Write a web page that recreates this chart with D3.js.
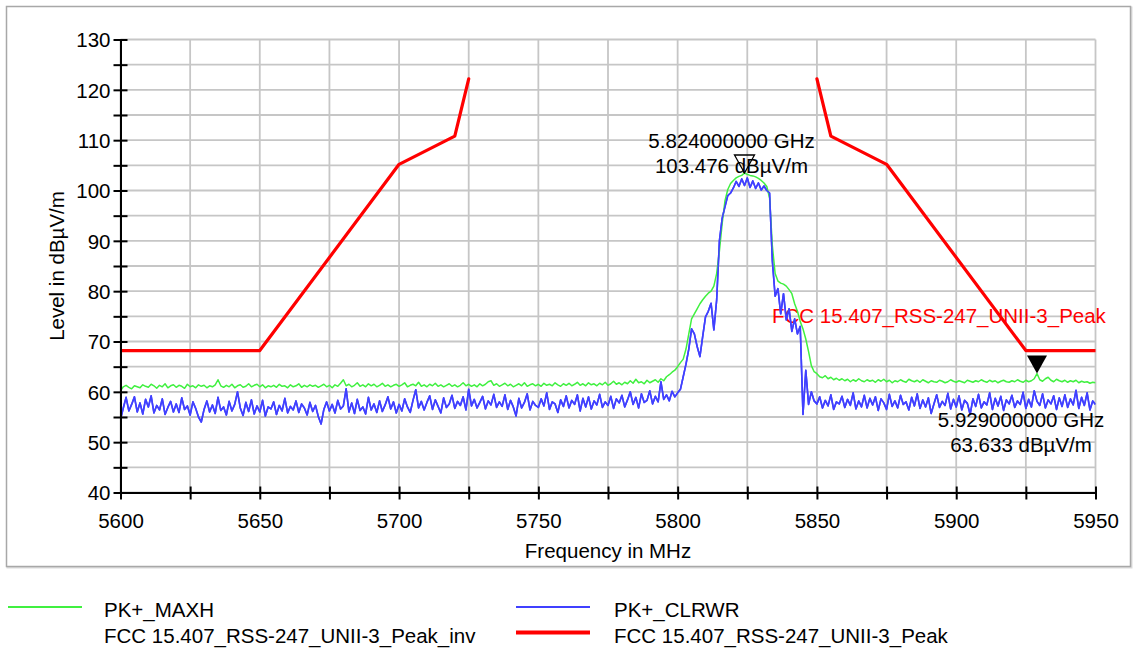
<!DOCTYPE html>
<html>
<head>
<meta charset="utf-8">
<script src="https://cdn.jsdelivr.net/npm/d3@7"></script>
<style>
  body { margin: 0; background: #fff; }
  svg { display: block; font-family: Arial, "Liberation Sans", sans-serif; }
</style>
</head>
<body>
<svg id="chart" width="1135" height="650"></svg>
<script>
// ---------------- DATA ----------------
const freqStart = 5600;   // MHz, first sample
const freqStep = 1;       // MHz between samples

// PK+_MAXH trace (dBµV/m), 5600..5950 MHz
const maxhValues = [
  60.2, 61.0, 61.3, 60.9, 60.6, 61.2, 61.0, 60.8, 61.4, 61.1,
  60.9, 61.5, 61.2, 60.7, 61.3, 61.0, 61.6, 60.8, 61.2, 61.4,
  60.9, 61.3, 61.1, 60.7, 61.5, 61.0, 61.2, 60.8, 61.4, 61.1,
  61.3, 60.8, 61.2, 61.0, 61.4, 62.4, 61.2, 60.9, 61.3, 61.0,
  61.5, 60.8, 61.2, 61.4, 60.9, 61.1, 61.6, 61.0, 61.3, 61.5,
  61.0, 61.4, 60.8, 61.2, 61.0, 61.3, 60.9, 61.5, 61.1, 61.2,
  60.8, 61.4, 61.0, 61.2, 61.6, 60.9, 61.3, 61.0, 61.4, 61.1,
  61.3, 60.9, 61.2, 61.5, 61.0, 61.3, 60.8, 61.4, 61.1, 61.7,
  62.4, 61.2, 61.5, 61.0, 61.3, 61.8, 61.1, 61.4, 61.0, 61.6,
  61.2, 61.5, 61.0, 61.3, 61.7, 61.1, 61.4, 61.0, 61.3, 61.5,
  61.1, 61.4, 61.8, 61.0, 61.3, 61.5, 61.2, 61.9, 61.1, 61.4,
  61.0, 61.5, 61.2, 61.7, 61.1, 61.4, 61.0, 61.3, 61.6, 61.1,
  61.4, 61.0, 61.3, 61.8, 61.2, 61.5, 61.1, 61.4, 61.0, 61.6,
  61.2, 61.5, 62.0, 62.2, 61.3, 61.6, 61.1, 61.4, 61.7, 61.2,
  61.5, 61.0, 61.3, 61.6, 61.2, 61.8, 61.1, 61.4, 61.6, 61.2,
  61.5, 61.1, 61.7, 61.3, 61.5, 61.2, 61.8, 61.4, 61.1, 61.6,
  61.3, 61.7, 61.2, 61.5, 61.9, 61.3, 61.6, 61.2, 61.8, 61.4,
  61.6, 61.2, 61.7, 61.4, 61.9, 61.3, 61.6, 62.1, 61.5, 61.8,
  61.4, 61.9, 61.6, 62.2, 61.7, 62.5, 61.8, 62.0, 61.6, 62.3,
  61.8, 62.1, 62.4, 61.9, 62.6, 62.2, 63.0, 63.4, 63.9, 64.3,
  65.0, 65.8, 66.5, 68.5, 71.5, 74.5, 75.5, 76.5, 77.5, 78.3,
  79.0, 79.6, 80.0, 81.0, 83.5, 88.0, 93.5, 98.0, 100.2, 101.4,
  102.0, 102.5, 102.8, 103.0, 103.476, 103.2, 103.0, 102.9, 102.7, 102.4,
  102.0, 101.5, 100.8, 98.5, 89.0, 83.5, 82.0, 81.6, 81.4, 81.0,
  80.3, 79.5, 77.5, 76.0, 74.0, 72.5, 70.5, 68.0, 65.2, 64.0,
  63.6, 63.0, 62.8, 63.2, 62.6, 62.9, 62.4, 62.7, 62.3, 62.6,
  62.2, 62.5, 62.0, 62.4, 62.1, 62.6, 62.2, 62.0, 62.4, 62.1,
  62.3, 61.9, 62.4, 62.1, 62.5, 62.0, 62.3, 61.8, 62.2, 62.0,
  62.4, 62.1, 61.9, 62.5, 62.2, 62.0, 62.3, 61.9, 62.4, 62.1,
  61.8, 62.2, 62.0, 61.9, 62.3, 62.1, 61.8, 62.0, 62.4, 62.1,
  61.9, 62.2, 62.0, 61.8, 62.3, 62.1, 61.9, 62.2, 62.0, 62.4,
  62.1, 61.9, 62.3, 62.0, 62.2, 61.8, 62.1, 62.3, 62.0, 61.9,
  62.2, 62.0, 62.4, 62.1, 61.9, 62.3, 62.0, 62.2, 62.6, 63.633,
  62.4, 62.1, 62.6, 62.9, 62.3, 62.0, 62.5, 62.2, 62.0, 62.3,
  61.9, 62.2, 62.0, 62.3, 61.8, 62.1, 61.9, 62.0, 61.7, 61.9,
  61.8
];

// PK+_CLRWR trace (dBµV/m), 5600..5950 MHz
const clrwrValues = [
  54.5, 56.8, 58.9, 56.2, 57.5, 59.0, 56.0, 57.8, 55.6, 58.5,
  57.0, 59.2, 55.8, 57.3, 56.4, 58.6, 55.5, 56.9, 58.1, 56.0,
  57.6, 55.9, 58.8, 56.5, 57.2, 55.4, 58.0, 56.7, 55.0, 54.0,
  56.5, 58.2, 56.0, 57.4, 55.7, 58.9, 56.3, 57.0, 55.4, 58.1,
  56.2, 57.5, 60.0, 56.8, 55.3, 57.9, 56.1, 58.4, 55.6, 57.2,
  56.0, 58.3, 55.2, 57.0, 56.6, 58.0, 55.5, 57.3, 56.2, 58.7,
  55.8, 57.1, 56.4, 58.2, 55.9, 57.6, 56.8, 55.4, 57.9, 56.1,
  57.3, 55.1, 53.6, 56.5, 58.0, 56.2, 57.5, 55.8, 58.3, 56.6,
  57.2, 60.6, 56.0, 57.8, 55.7, 58.5, 56.3, 57.0, 55.6, 58.9,
  56.4, 57.6, 55.9, 58.2, 56.1, 57.4, 59.0, 56.6, 58.0, 55.8,
  57.5, 56.2, 58.6, 57.0, 55.9, 58.3, 60.4, 56.8, 58.1, 56.4,
  57.9, 59.2, 56.5, 58.4, 57.1, 55.8, 58.8, 56.9, 57.6, 59.3,
  56.7, 58.1, 57.3, 59.0, 56.4, 60.5, 57.2, 58.5, 56.8, 57.9,
  59.1, 56.6, 58.2, 57.4, 59.5, 56.9, 58.0, 57.1, 59.4, 56.5,
  58.3, 57.0, 55.2, 58.7, 56.8, 57.9, 59.6, 56.4, 58.1, 57.3,
  56.9, 58.6, 57.2, 59.8, 56.5, 58.0, 57.6, 55.9, 58.4, 57.1,
  59.2, 56.8, 58.3, 57.5, 59.4, 56.2, 58.7, 57.0, 59.0, 56.6,
  58.2, 57.4, 59.5, 56.9, 58.0, 57.3, 59.1, 56.7, 58.6, 57.8,
  59.3, 57.0, 58.4, 60.0, 57.5, 58.9, 56.8, 59.6, 57.9, 58.3,
  60.2, 57.6, 59.1, 58.0, 62.0, 58.5, 59.4, 58.2, 60.1, 59.0,
  59.8, 60.5, 63.0, 65.5, 68.5, 72.5, 71.5, 69.0, 67.0, 71.0,
  74.9, 76.0, 77.6, 72.3, 78.2, 90.0, 94.5, 96.8, 99.0, 99.5,
  100.5, 101.8, 100.8, 102.3, 101.0, 102.5, 100.6, 101.9, 100.4, 101.5,
  100.1, 100.9, 100.0, 99.5, 86.0, 79.0, 80.5, 75.5, 79.5, 74.3,
  76.5, 72.0, 74.5, 71.5, 73.0, 55.5, 64.3, 57.5, 60.0, 58.2,
  57.6, 59.0, 56.8, 58.3, 57.2, 59.4, 56.5, 58.0, 57.6, 59.1,
  56.9, 58.5, 57.3, 59.8, 56.6, 58.2, 57.0, 59.3, 56.8, 58.7,
  57.4, 59.0, 56.3, 58.6, 57.8, 56.5, 59.5, 57.1, 58.2, 56.8,
  59.3, 57.5, 58.0, 56.4, 58.9, 57.2, 59.6, 56.7, 58.4, 57.0,
  58.8, 55.7, 57.6, 59.4, 56.9, 58.1, 57.3, 59.7, 56.6, 58.5,
  57.0, 59.2, 56.4, 58.3, 57.7, 55.5, 58.6, 57.1, 59.5, 56.8,
  58.0, 57.4, 59.8, 56.5, 58.7, 57.2, 59.1, 56.3, 58.4, 57.6,
  59.3, 56.9, 58.2, 57.5, 59.9, 56.7, 58.5, 57.0, 60.2, 58.1,
  57.3, 59.6, 56.8, 58.4, 57.6, 59.2, 56.5, 58.8, 57.1, 59.4,
  56.9, 58.6, 57.4, 60.3, 56.7, 58.9, 57.3, 59.8, 56.4, 58.2,
  57.5
];

// FCC 15.407_RSS-247_UNII-3_Peak limit, two segments
const limitLowFreq = [5600, 5650, 5700, 5720, 5725];
const limitLowLevel = [68.2, 68.2, 105.2, 110.8, 122.2];
const limitHighFreq = [5850, 5855, 5875, 5925, 5950];
const limitHighLevel = [122.2, 110.8, 105.2, 68.2, 68.2];

// Markers
const markerFreqMHz = [5824, 5929];
const markerLevel = [103.476, 63.633];
const markerLabelFreq = ["5.824000000 GHz", "5.929000000 GHz"];
const markerLabelLevel = ["103.476 dBµV/m", "63.633 dBµV/m"];

// Axes
const xDomain = [5600, 5950];
const yDomain = [40, 130];
const xTickLabels = [5600, 5650, 5700, 5750, 5800, 5850, 5900, 5950];
const yTickLabels = [40, 50, 60, 70, 80, 90, 100, 110, 120, 130];
const xAxisTitle = "Frequency in MHz";
const yAxisTitle = "Level in dBµV/m";
const limitLabel = "FCC 15.407_RSS-247_UNII-3_Peak";

const legendNames = ["PK+_MAXH", "PK+_CLRWR", "FCC 15.407_RSS-247_UNII-3_Peak_inv", "FCC 15.407_RSS-247_UNII-3_Peak"];

// ---------------- DRAW ----------------
const svg = d3.select("#chart");
const W = 1135, H = 650;
const plot = { left: 120.5, right: 1095.5, top: 39.5, bottom: 492.5 };
const FS = 20.5;
const colGreen = "#40f040", colBlue = "#4040ff", colRed = "#ff0000";

// outer frame
svg.append("rect").attr("x", 7.5).attr("y", 7.5).attr("width", 1124).attr("height", 560)
  .attr("fill", "none").attr("stroke", "#dcdcdc").attr("stroke-width", 2);
svg.append("rect").attr("x", 6.5).attr("y", 6.5).attr("width", 1124).attr("height", 560)
  .attr("fill", "#fff").attr("stroke", "#a8a8a8").attr("stroke-width", 1.5);

const x = d3.scaleLinear().domain(xDomain).range([plot.left, plot.right]);
const y = d3.scaleLinear().domain(yDomain).range([plot.bottom, plot.top]);

const xGrid = d3.range(xDomain[0], xDomain[1] + 1, 25);
const yGrid = d3.range(yDomain[0], yDomain[1] + 1, 5);

const g = svg.append("g");
// grid
g.selectAll("line.vg").data(xGrid).join("line")
  .attr("x1", d => x(d)).attr("x2", d => x(d))
  .attr("y1", plot.top).attr("y2", plot.bottom)
  .attr("stroke", "#c6c6c6").attr("stroke-width", 1.8);
g.selectAll("line.hg").data(yGrid).join("line")
  .attr("x1", plot.left).attr("x2", plot.right)
  .attr("y1", d => y(d)).attr("y2", d => y(d))
  .attr("stroke", "#c6c6c6").attr("stroke-width", 1.8);

// limit label (red)
g.append("text").attr("x", 772).attr("y", 323)
  .attr("font-size", FS).attr("fill", colRed).text(limitLabel);

// clip
svg.append("clipPath").attr("id", "clip").append("rect")
  .attr("x", plot.left).attr("y", plot.top - 1)
  .attr("width", plot.right - plot.left).attr("height", plot.bottom - plot.top + 1);

const line = d3.line().x(d => x(d[0])).y(d => y(d[1]));
const traceData = vals => vals.map((v, i) => [freqStart + i * freqStep, v]);

const traces = svg.append("g").attr("clip-path", "url(#clip)");
traces.append("path").datum(traceData(clrwrValues))
  .attr("d", line).attr("fill", "none").attr("stroke", colBlue).attr("stroke-width", 1.6)
  .attr("stroke-linejoin", "round");
traces.append("path").datum(traceData(maxhValues))
  .attr("d", line).attr("fill", "none").attr("stroke", colGreen).attr("stroke-width", 1.5)
  .attr("stroke-linejoin", "round");
// keep blue drawn over green in the noise floor is not needed; draw blue again on top for emission body
traces.append("path").datum(traceData(clrwrValues))
  .attr("d", line).attr("fill", "none").attr("stroke", colBlue).attr("stroke-width", 1.6)
  .attr("stroke-linejoin", "round");

const limitLow = limitLowFreq.map((f, i) => [f, limitLowLevel[i]]);
const limitHigh = limitHighFreq.map((f, i) => [f, limitHighLevel[i]]);
[limitLow, limitHigh].forEach(seg => {
  traces.append("path").datum(seg).attr("d", line)
    .attr("fill", "none").attr("stroke", colRed).attr("stroke-width", 3.2)
    .attr("stroke-linejoin", "round").attr("stroke-linecap", "round");
});

// axes
const xAxis = d3.axisBottom(x).tickValues(xGrid).tickSizeInner(7).tickSizeOuter(0)
  .tickFormat(d => xTickLabels.includes(d) ? d : "");
const gx = svg.append("g").attr("transform", `translate(0,${plot.bottom})`).call(xAxis);
gx.select(".domain").attr("stroke", "#000").attr("stroke-width", 2);
gx.selectAll(".tick line").attr("y1", -6).attr("y2", 7).attr("stroke", "#000").attr("stroke-width", 2);
gx.selectAll(".tick text").attr("font-size", FS).attr("font-family", "Arial, 'Liberation Sans', sans-serif")
  .attr("fill", "#000").attr("y", 0).attr("dy", 35.5);

const yAxis = d3.axisLeft(y).tickValues(yGrid).tickSizeInner(7).tickSizeOuter(0)
  .tickFormat(d => yTickLabels.includes(d) ? d : "");
const gy = svg.append("g").attr("transform", `translate(${plot.left},0)`).call(yAxis);
gy.select(".domain").attr("stroke", "#000").attr("stroke-width", 2);
gy.selectAll(".tick line").attr("x1", -7).attr("x2", 7).attr("stroke", "#000").attr("stroke-width", 2);
gy.selectAll(".tick text").attr("font-size", FS).attr("font-family", "Arial, 'Liberation Sans', sans-serif")
  .attr("fill", "#000").attr("x", -10).attr("dy", "0.36em");

// axis titles
svg.append("text").attr("x", (plot.left + plot.right) / 2).attr("y", 558)
  .attr("text-anchor", "middle").attr("font-size", FS).text(xAxisTitle);
svg.append("text").attr("transform", `translate(64,${(plot.top + plot.bottom) / 2}) rotate(-90)`)
  .attr("text-anchor", "middle").attr("font-size", FS).text(yAxisTitle);

// markers
const mg = svg.append("g");
// marker 1: hollow triangle, label above
{
  const mx = x(markerFreqMHz[0]), my = y(markerLevel[0]);
  mg.append("path").attr("d", `M${mx - 10},${my - 18} L${mx + 10},${my - 18} L${mx},${my} Z`)
    .attr("fill", "none").attr("stroke", "#000").attr("stroke-width", 1.3);
  mg.append("text").attr("x", mx - 13).attr("y", my - 25).attr("text-anchor", "middle")
    .attr("font-size", FS).text(markerLabelFreq[0]);
  mg.append("text").attr("x", mx - 13).attr("y", my).attr("text-anchor", "middle")
    .attr("font-size", FS).text(markerLabelLevel[0]);
}
// marker 2: filled triangle, label below
{
  const mx = x(markerFreqMHz[1]), my = y(markerLevel[1]);
  mg.append("path").attr("d", `M${mx - 10},${my - 18} L${mx + 10},${my - 18} L${mx},${my} Z`)
    .attr("fill", "#000");
  mg.append("text").attr("x", mx - 16).attr("y", my + 53).attr("text-anchor", "middle")
    .attr("font-size", FS).text(markerLabelFreq[1]);
  mg.append("text").attr("x", mx - 16).attr("y", my + 78).attr("text-anchor", "middle")
    .attr("font-size", FS).text(markerLabelLevel[1]);
}

// legend
const lg = svg.append("g");
const legendItems = [
  { name: legendNames[0], color: colGreen, w: 1.8, lx: 8, tx: 104, row: 0 },
  { name: legendNames[1], color: colBlue, w: 1.8, lx: 516, tx: 614, row: 0 },
  { name: legendNames[2], color: "#ffffff", w: 1.8, lx: 8, tx: 104, row: 1 },
  { name: legendNames[3], color: colRed, w: 4, lx: 516, tx: 614, row: 1 }
];
legendItems.forEach(it => {
  const ly = 607 + it.row * 25.5;
  lg.append("line").attr("x1", it.lx).attr("x2", it.lx + 74).attr("y1", ly).attr("y2", ly)
    .attr("stroke", it.color).attr("stroke-width", it.w);
  lg.append("text").attr("x", it.tx).attr("y", ly + 10).attr("font-size", FS).text(it.name);
});
</script>
</body>
</html>
